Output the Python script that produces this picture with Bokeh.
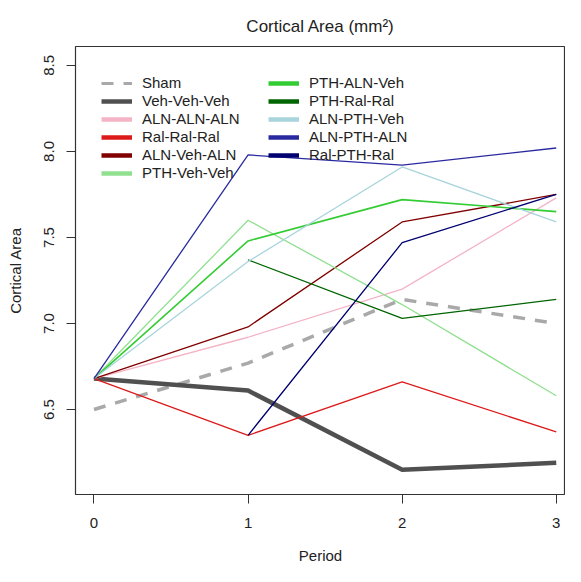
import math
from bokeh.plotting import figure
from bokeh.models import Legend, LegendItem, FixedTicker, PrintfTickFormatter, Range1d
from bokeh.embed import file_html
from bokeh.resources import INLINE

nan = float("nan")

periods = [0, 1, 2, 3]
sham = [6.50, 6.77, 7.14, 7.00]
veh_veh_veh = [6.68, 6.61, 6.15, 6.19]
aln_aln_aln = [6.68, 6.92, 7.20, 7.73]
ral_ral_ral = [6.68, 6.35, 6.66, 6.37]
aln_veh_aln = [6.68, 6.98, 7.59, 7.75]
pth_veh_veh = [6.68, 7.60, 7.11, 6.58]
pth_aln_veh = [6.68, 7.48, 7.72, 7.65]
pth_ral_ral = [nan, 7.37, 7.03, 7.14]
aln_pth_veh = [6.68, 7.36, 7.91, 7.59]
aln_pth_aln = [6.68, 7.98, 7.92, 8.02]
ral_pth_ral = [nan, 6.35, 7.47, 7.75]

y_ticks = [6.5, 7.0, 7.5, 8.0, 8.5]
x_ticks = [0, 1, 2, 3]

FONT = "Liberation Sans"
TXT = "#222222"

series = [
    ("Sham", sham, "#A9A9A9", 3.5, "12 10"),
    ("Veh-Veh-Veh", veh_veh_veh, "#505050", 4.5, "solid"),
    ("ALN-ALN-ALN", aln_aln_aln, "#F4B4C6", 1.3, "solid"),
    ("Ral-Ral-Ral", ral_ral_ral, "#DD1A1A", 1.3, "solid"),
    ("ALN-Veh-ALN", aln_veh_aln, "#800000", 1.3, "solid"),
    ("PTH-Veh-Veh", pth_veh_veh, "#90E090", 1.3, "solid"),
    ("PTH-ALN-Veh", pth_aln_veh, "#33CC33", 1.6, "solid"),
    ("PTH-Ral-Ral", pth_ral_ral, "#006400", 1.3, "solid"),
    ("ALN-PTH-Veh", aln_pth_veh, "#A8D4DC", 1.3, "solid"),
    ("ALN-PTH-ALN", aln_pth_aln, "#2A2AA0", 1.3, "solid"),
    ("Ral-PTH-Ral", ral_pth_ral, "#000070", 1.3, "solid"),
]

p = figure(width=565, height=566, output_backend="svg", toolbar_location=None,
           x_range=Range1d(-0.12, 3.06), y_range=Range1d(6.006, 8.61),
           min_border_left=75, min_border_right=0, min_border_top=46,
           min_border_bottom=72, title="Cortical Area (mm²)")

p.title.align = "center"
p.title.text_font = FONT
p.title.text_font_size = "17px"
p.title.text_font_style = "normal"
p.title.text_color = TXT
p.title.standoff = 22

p.xgrid.grid_line_color = None
p.ygrid.grid_line_color = None
p.outline_line_color = "#333333"
p.outline_line_width = 1.2
p.background_fill_color = "white"
p.border_fill_color = "white"

for ax in (p.xaxis[0], p.yaxis[0]):
    ax.axis_line_color = None
    ax.major_tick_line_color = "#333333"
    ax.major_tick_out = 9
    ax.major_tick_in = 0
    ax.minor_tick_line_color = None
    ax.major_label_text_font = FONT
    ax.major_label_text_font_size = "15px"
    ax.major_label_text_color = TXT
    ax.axis_label_text_font = FONT
    ax.axis_label_text_font_size = "15px"
    ax.axis_label_text_font_style = "normal"
    ax.axis_label_text_color = TXT

p.xaxis.ticker = FixedTicker(ticks=x_ticks)
p.yaxis.ticker = FixedTicker(ticks=y_ticks)
p.yaxis.formatter = PrintfTickFormatter(format="%.1f")
p.yaxis.major_label_orientation = "vertical"
p.xaxis.axis_label = "Period"
p.yaxis.axis_label = "Cortical Area"
p.xaxis.major_label_standoff = 14
p.yaxis.major_label_standoff = 12
p.xaxis.axis_label_standoff = 16
p.yaxis.axis_label_standoff = 18

items = []
for name, vals, color, lw, dash in series:
    p.line(periods, vals, line_color=color, line_width=lw, line_dash=dash)
    # legend proxy: same x, no visible points, thicker stroke for the key
    dummy = p.line(periods, [nan for _ in vals], line_color=color,
                   line_width=(3 if name == "Sham" else 4.5), line_dash=dash)
    items.append(LegendItem(label=name, renderers=[dummy]))


def make_legend(its, loc):
    lg = Legend(items=its, location=loc)
    lg.background_fill_alpha = 0
    lg.border_line_color = None
    lg.label_text_font = FONT
    lg.label_text_font_size = "15px"
    lg.label_text_color = TXT
    lg.glyph_width = 31
    lg.glyph_height = 16
    lg.label_height = 16
    lg.label_standoff = 10
    lg.spacing = 1
    lg.padding = 0
    lg.margin = 0
    return lg


p.add_layout(make_legend(items[:6], (26, 313)))
p.add_layout(make_legend(items[6:], (193, 331)))

open("out.html", "w").write(file_html(p, INLINE))
